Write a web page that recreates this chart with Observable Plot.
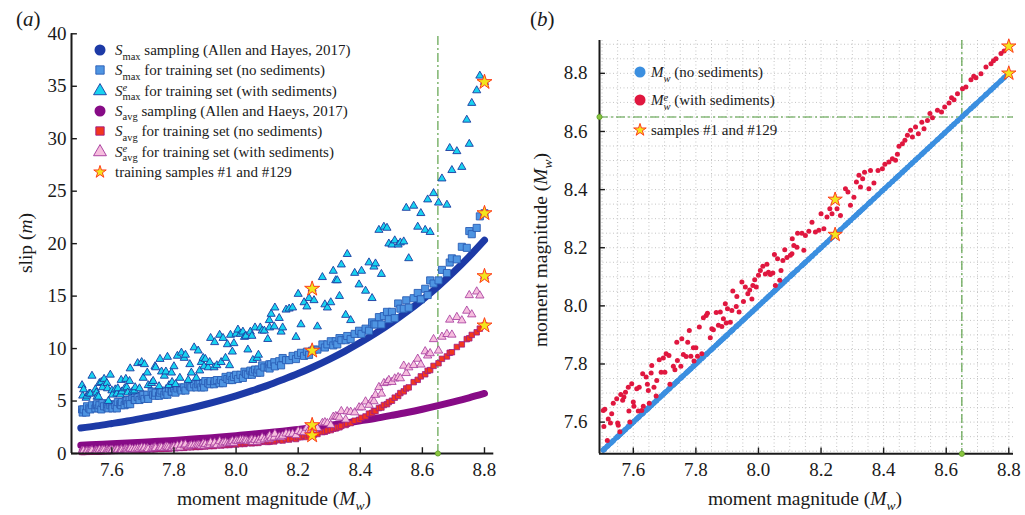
<!DOCTYPE html>
<html>
<head>
<meta charset="utf-8">
<script src="https://cdn.jsdelivr.net/npm/d3@7"></script>
<script src="https://cdn.jsdelivr.net/npm/@observablehq/plot@0.6"></script>
<style>
  html, body { margin: 0; padding: 0; background: #fff; }
  #fig { position: relative; width: 1025px; height: 515px; overflow: hidden;
         font-family: "Liberation Serif", "Times New Roman", Times, serif; color: #1a1a1a; }
  .panel { position: absolute; top: 0; }
  .lbl { position: absolute; white-space: nowrap; line-height: 1; }
  .rot { transform: translate(-50%, -50%) rotate(-90deg); }
  .ctr { transform: translateX(-50%); }
  .row { position: absolute; height: 18px; display: flex; align-items: center;
         font-size: 15px; line-height: 18px; white-space: nowrap; }
  .row svg { flex: none; overflow: visible; }
  .sx { display: inline-block; position: relative; line-height: 1; }
  .sx .b { position: relative; }
  .sx .t { position: absolute; left: 0; font-style: italic; }
</style>
</head>
<body>
<div id="fig"></div>
<script>
// ---------------------------------------------------------------------------
// Training samples: moment magnitude without sediments (mw), with sediments
// (mwSed), peak slip (sMax / sMaxSed) and average slip (sAvg / sAvgSed).
// ---------------------------------------------------------------------------
const mw = [
  7.504, 7.506, 7.509, 7.517, 7.520, 7.527, 7.531, 7.536, 7.547, 7.550,
  7.552, 7.557, 7.560, 7.566, 7.570, 7.575, 7.584, 7.586, 7.589, 7.595,
  7.600, 7.602, 7.611, 7.616, 7.619, 7.627, 7.630, 7.632, 7.641, 7.645,
  7.648, 7.651, 7.657, 7.659, 7.666, 7.673, 7.675, 7.683, 7.689, 7.696,
  7.701, 7.705, 7.714, 7.717, 7.728, 7.733, 7.739, 7.741, 7.752, 7.755,
  7.760, 7.769, 7.774, 7.779, 7.784, 7.792, 7.794, 7.800, 7.805, 7.811,
  7.819, 7.824, 7.833, 7.837, 7.846, 7.851, 7.856, 7.865, 7.872, 7.878,
  7.883, 7.888, 7.894, 7.897, 7.901, 7.910, 7.915, 7.918, 7.929, 7.931,
  7.938, 7.947, 7.952, 7.958, 7.966, 7.972, 7.979, 7.982, 7.988, 7.993,
  8.000, 8.006, 8.014, 8.022, 8.027, 8.032, 8.038, 8.046, 8.051, 8.054,
  8.061, 8.068, 8.072, 8.078, 8.084, 8.091, 8.102, 8.107, 8.108, 8.113,
  8.123, 8.125, 8.139, 8.145, 8.150, 8.161, 8.171, 8.182, 8.193, 8.200,
  8.209, 8.219, 8.228, 8.235, 8.245, 8.251, 8.262, 8.278, 8.286, 8.294,
  8.305, 8.313, 8.321, 8.326, 8.333, 8.339, 8.353, 8.358, 8.369, 8.382,
  8.396, 8.404, 8.417, 8.428, 8.438, 8.444, 8.449, 8.460, 8.468, 8.476,
  8.486, 8.492, 8.502, 8.511, 8.522, 8.529, 8.540, 8.548, 8.556, 8.572,
  8.585, 8.595, 8.609, 8.617, 8.625, 8.636, 8.652, 8.663, 8.679, 8.688,
  8.695, 8.711, 8.727, 8.743, 8.751, 8.759, 8.775, 8.785, 8.800
];

const mwSed = [
  7.640, 7.585, 7.644, 7.537, 7.611, 7.597, 7.629, 7.665, 7.680, 7.597,
  7.589, 7.567, 7.695, 7.675, 7.686, 7.703, 7.720, 7.638, 7.600, 7.732,
  7.669, 7.655, 7.715, 7.638, 7.720, 7.640, 7.766, 7.655, 7.755, 7.730,
  7.709, 7.665, 7.769, 7.795, 7.720, 7.690, 7.743, 7.815, 7.772, 7.821,
  7.772, 7.835, 7.829, 7.730, 7.792, 7.780, 7.875, 7.812, 7.792, 7.887,
  7.833, 7.826, 7.875, 7.915, 7.827, 7.856, 7.810, 7.856, 7.827, 7.927,
  7.835, 7.959, 7.967, 7.975, 7.890, 7.921, 7.918, 7.977, 7.933, 7.979,
  7.929, 7.956, 8.007, 7.941, 7.990, 7.944, 7.984, 8.051, 7.998, 8.032,
  7.979, 8.082, 8.015, 8.065, 8.042, 8.055, 8.024, 8.070, 8.090, 8.065,
  8.105, 8.122, 8.136, 8.110, 8.143, 8.116, 8.108, 8.113, 8.177, 8.070,
  8.162, 8.088, 8.122, 8.156, 8.193, 8.166, 8.174, 8.179, 8.231, 8.208,
  8.202, 8.250, 8.250, 8.191, 8.242, 8.257, 8.288, 8.254, 8.260, 8.317,
  8.265, 8.306, 8.334, 8.317, 8.366, 8.334, 8.311, 8.403, 8.392, 8.346,
  8.374, 8.426, 8.449, 8.409, 8.437, 8.460, 8.403, 8.466, 8.423, 8.466,
  8.472, 8.487, 8.495, 8.506, 8.501, 8.522, 8.549, 8.558, 8.570, 8.587,
  8.604, 8.581, 8.615, 8.592, 8.632, 8.609, 8.638, 8.662, 8.647, 8.673,
  8.667, 8.684, 8.698, 8.716, 8.709, 8.730, 8.747, 8.753, 8.778, 8.790,
  8.785, 8.799, 8.822, 8.833, 8.843, 8.850, 8.868, 8.877, 8.893
];

const sMax = [
  4.2, 3.9, 4.2, 3.9, 4.5, 4.3, 4.2, 4.6, 4.3, 4.6,
  4.7, 4.3, 4.6, 4.2, 4.8, 4.5, 4.4, 4.7, 4.3, 4.6,
  4.7, 4.3, 4.6, 4.3, 4.9, 4.7, 4.6, 4.9, 4.6, 5.0,
  5.1, 4.7, 5.1, 4.7, 5.4, 5.1, 5.1, 5.4, 5.1, 5.5,
  5.6, 5.2, 5.6, 5.2, 5.9, 5.6, 5.5, 5.8, 5.5, 5.8,
  6.0, 5.6, 5.9, 5.6, 6.2, 5.9, 5.9, 6.2, 5.8, 6.2,
  6.3, 6.0, 6.3, 6.0, 6.6, 6.4, 6.3, 6.6, 6.3, 6.6,
  6.7, 6.3, 6.7, 6.3, 6.9, 6.7, 6.6, 6.9, 6.6, 6.9,
  7.0, 6.7, 7.0, 6.7, 7.3, 7.1, 7.0, 7.4, 7.0, 7.3,
  7.5, 7.1, 7.5, 7.2, 7.8, 7.6, 7.5, 7.9, 7.5, 7.8,
  8.0, 7.7, 8.0, 7.7, 8.4, 8.2, 8.2, 8.5, 8.1, 8.5,
  8.7, 8.3, 8.8, 8.4, 9.1, 8.9, 8.9, 9.3, 9.0, 9.4,
  9.6, 9.3, 9.7, 9.4, 9.8, 9.9, 9.9, 10.4, 10.1, 10.4,
  10.7, 10.3, 10.7, 10.4, 11.0, 10.8, 10.8, 11.2, 10.9, 11.4,
  11.7, 11.4, 11.9, 11.7, 12.5, 12.3, 12.3, 13.0, 12.3, 13.1,
  13.5, 12.8, 13.5, 12.9, 14.3, 13.8, 13.8, 14.6, 13.9, 14.8,
  15.3, 14.7, 15.7, 15.1, 16.5, 16.2, 16.5, 17.5, 17.2, 18.2,
  18.6, 18.5, 19.7, 19.6, 21.2, 20.9, 21.5, 22.6, 22.9
];

const sMaxSed = [
  6.5, 5.5, 6.1, 5.3, 5.5, 5.7, 5.7, 7.4, 6.1, 5.8,
  5.4, 5.4, 6.7, 6.8, 6.3, 7.1, 6.7, 6.2, 5.0, 7.5,
  6.0, 5.6, 6.1, 5.7, 6.2, 5.6, 7.0, 5.9, 6.2, 7.1,
  6.3, 5.8, 6.9, 8.1, 5.9, 6.0, 6.3, 8.6, 6.2, 8.7,
  7.2, 8.5, 7.7, 6.5, 6.7, 6.9, 8.3, 8.2, 6.4, 9.0,
  7.8, 7.4, 7.8, 9.2, 6.5, 7.7, 6.8, 8.3, 6.6, 9.3,
  7.2, 9.6, 9.1, 9.4, 7.0, 8.5, 7.7, 10.1, 7.2, 9.8,
  7.9, 8.7, 9.1, 8.3, 9.0, 8.2, 8.7, 11.0, 8.2, 10.6,
  8.4, 11.3, 8.7, 11.0, 9.1, 10.4, 8.4, 11.3, 9.7, 10.5,
  11.4, 11.8, 11.4, 11.6, 11.1, 11.2, 9.9, 11.6, 11.2, 8.9,
  12.0, 9.1, 9.4, 12.0, 11.7, 11.7, 10.9, 12.7, 12.0, 13.3,
  12.1, 13.9, 12.9, 11.6, 12.0, 13.7, 13.8, 13.9, 11.1, 15.2,
  12.3, 14.4, 14.0, 14.8, 15.7, 14.6, 12.1, 16.8, 14.2, 13.9,
  14.4, 17.4, 16.5, 16.5, 15.0, 18.0, 13.2, 19.0, 12.7, 17.2,
  16.1, 17.4, 15.5, 18.2, 14.8, 17.8, 18.1, 21.3, 17.1, 21.6,
  21.5, 20.0, 19.9, 20.3, 19.9, 20.1, 20.2, 23.4, 18.6, 23.6,
  21.6, 22.9, 21.3, 24.2, 21.1, 24.8, 23.9, 26.2, 23.7, 29.1,
  27.0, 28.8, 27.3, 31.8, 29.5, 33.4, 34.6, 36.0, 35.4
];

const sAvg = [
  0.15, 0.17, 0.15, 0.17, 0.16, 0.18, 0.17, 0.19, 0.20, 0.21,
  0.19, 0.21, 0.20, 0.22, 0.21, 0.23, 0.23, 0.25, 0.23, 0.25,
  0.24, 0.26, 0.25, 0.28, 0.27, 0.30, 0.27, 0.30, 0.29, 0.31,
  0.29, 0.32, 0.32, 0.34, 0.32, 0.35, 0.33, 0.36, 0.34, 0.39,
  0.38, 0.41, 0.38, 0.42, 0.40, 0.43, 0.41, 0.45, 0.45, 0.48,
  0.44, 0.49, 0.46, 0.50, 0.47, 0.53, 0.51, 0.55, 0.50, 0.56,
  0.53, 0.57, 0.54, 0.61, 0.60, 0.65, 0.59, 0.66, 0.62, 0.67,
  0.63, 0.71, 0.69, 0.74, 0.67, 0.74, 0.70, 0.75, 0.71, 0.79,
  0.78, 0.84, 0.76, 0.84, 0.80, 0.86, 0.81, 0.90, 0.88, 0.94,
  0.86, 0.94, 0.90, 0.97, 0.91, 1.02, 0.99, 1.07, 0.97, 1.06,
  1.01, 1.09, 1.01, 1.14, 1.11, 1.19, 1.10, 1.21, 1.13, 1.21,
  1.15, 1.27, 1.27, 1.36, 1.24, 1.38, 1.33, 1.46, 1.38, 1.56,
  1.55, 1.70, 1.57, 1.75, 1.72, 1.80, 1.86, 2.04, 2.07, 2.18,
  2.23, 2.36, 2.39, 2.49, 2.50, 2.63, 2.72, 2.84, 2.90, 3.12,
  3.21, 3.40, 3.53, 3.80, 3.86, 4.06, 4.04, 4.33, 4.38, 4.62,
  4.70, 4.90, 5.03, 5.32, 5.48, 5.76, 5.92, 6.20, 6.30, 6.80,
  7.02, 7.35, 7.55, 7.88, 7.95, 8.35, 8.60, 9.02, 9.25, 9.60,
  9.65, 10.15, 10.40, 10.90, 10.98, 11.30, 11.55, 11.90, 12.20
];

const sAvgSed = [
  0.26, 0.21, 0.26, 0.21, 0.23, 0.24, 0.26, 0.30, 0.29, 0.26,
  0.23, 0.23, 0.35, 0.29, 0.32, 0.32, 0.37, 0.27, 0.26, 0.35,
  0.32, 0.32, 0.33, 0.30, 0.36, 0.32, 0.40, 0.33, 0.40, 0.39,
  0.40, 0.30, 0.45, 0.46, 0.41, 0.34, 0.44, 0.48, 0.45, 0.56,
  0.41, 0.54, 0.51, 0.42, 0.46, 0.49, 0.58, 0.51, 0.52, 0.57,
  0.56, 0.52, 0.65, 0.63, 0.56, 0.58, 0.52, 0.65, 0.52, 0.75,
  0.56, 0.84, 0.77, 0.86, 0.64, 0.72, 0.77, 0.78, 0.76, 0.82,
  0.77, 0.74, 0.94, 0.72, 0.88, 0.83, 0.81, 1.05, 0.88, 1.03,
  0.80, 1.16, 0.87, 1.02, 1.07, 0.95, 0.98, 1.05, 1.19, 1.00,
  1.22, 1.17, 1.27, 1.29, 1.20, 1.25, 1.16, 1.26, 1.32, 1.09,
  1.29, 1.10, 1.31, 1.24, 1.52, 1.34, 1.49, 1.35, 1.70, 1.48,
  1.53, 1.87, 1.62, 1.54, 1.68, 1.90, 1.84, 1.87, 1.74, 2.14,
  2.05, 2.02, 2.44, 2.25, 2.70, 2.28, 2.42, 2.90, 2.97, 2.88,
  2.72, 3.49, 3.55, 3.51, 3.42, 4.03, 3.23, 4.01, 3.96, 3.91,
  4.39, 4.39, 4.95, 4.63, 5.11, 4.97, 5.58, 6.32, 5.70, 6.70,
  6.77, 6.99, 6.81, 7.14, 7.26, 7.16, 8.36, 7.66, 8.20, 8.42,
  9.02, 8.47, 9.73, 9.33, 9.55, 10.89, 9.80, 11.12, 11.38, 12.75,
  11.32, 13.00, 12.68, 13.60, 15.08, 13.25, 15.43, 15.05, 16.90
];

// Magnitude of training samples #1 and #129 (drawn as stars)
const starMw = [8.245, 8.800];

// Allen and Hayes (2017) slip scaling, sampled along Mw
const mwScaling = [
  7.50, 7.55, 7.60, 7.65, 7.70, 7.75, 7.80, 7.85, 7.90, 7.95,
  8.00, 8.05, 8.10, 8.15, 8.20, 8.25, 8.30, 8.35, 8.40, 8.45,
  8.50, 8.55, 8.60, 8.65, 8.70, 8.75, 8.80
];
const sMaxScaling = [
  2.43, 2.63, 2.86, 3.10, 3.37, 3.65, 3.96, 4.30, 4.67, 5.07,
  5.50, 5.97, 6.47, 7.03, 7.62, 8.27, 8.98, 9.74, 10.57, 11.47,
  12.45, 13.51, 14.66, 15.91, 17.27, 18.74, 20.33
];
const sAvgScaling = [
  0.79, 0.86, 0.92, 1.00, 1.08, 1.16, 1.25, 1.35, 1.46, 1.57,
  1.70, 1.83, 1.98, 2.13, 2.30, 2.48, 2.68, 2.89, 3.12, 3.36,
  3.63, 3.91, 4.22, 4.56, 4.92, 5.30, 5.72
];

// Reference magnitude marked by the dash-dot guides
const refMw = 8.65;

// Tick values
const mwTicks = [7.6, 7.8, 8.0, 8.2, 8.4, 8.6, 8.8];
const slipTicks = [0, 5, 10, 15, 20, 25, 30, 35, 40];
const mwTicksB = [7.6, 7.8, 8.0, 8.2, 8.4, 8.6, 8.8];

// ---------------------------------------------------------------------------
const serif = '"Liberation Serif", "Times New Roman", Times, serif';
const ink = "#1a1a1a";
const guide = "#4f9a3a";
const guideDot = "#8cc63f";
const C = {
  smaxScale: "#1d3aa6",
  smaxFill: "#4f95e2", smaxEdge: "#2a5db5",
  smaxSedFill: "#18d3f0", smaxSedEdge: "#1c3aa0",
  savgScale: "#870b86",
  savgFill: "#f2371d", savgEdge: "#a01a86",
  savgSedFill: "#f6bede", savgSedEdge: "#a3359a",
  starFill: "#f2e51d", starEdge: "#ff3b1a",
  mwBlue: "#3b8fe0", mwRed: "#e0173f"
};

const idx = d3.range(mw.length);
const scaleIdx = d3.range(mwScaling.length);
const starIdx = starMw.map(v => mw.indexOf(v));

// ---------------------------- panel (a) -----------------------------------
const xA = [7.47, 8.83];
const starsA = starIdx.flatMap(i =>
  [sMaxSed[i], sMax[i], sAvgSed[i], sAvg[i]].map(v => ({m: mw[i], v})));

const plotA = Plot.plot({
  width: 520, height: 515,
  marginLeft: 71, marginRight: 26.7, marginTop: 33.3, marginBottom: 62,
  style: {fontFamily: serif, fontSize: "19px", color: ink, background: "transparent", overflow: "visible"},
  x: {domain: xA, ticks: mwTicks, tickSize: 0, tickPadding: 9, tickFormat: ".1f", label: null},
  y: {domain: [0, 40], ticks: slipTicks, tickSize: 0, tickPadding: 5, label: null},
  marks: [
    Plot.ruleX([refMw], {y1: 0, y2: 40, stroke: guide, strokeWidth: 1.1, strokeDasharray: "9,3,2,3"}),
    Plot.line(scaleIdx, {x: i => mwScaling[i], y: i => sMaxScaling[i], stroke: C.smaxScale,
      strokeWidth: 7, strokeLinecap: "round", curve: "catmull-rom"}),
    Plot.dot(idx, {x: i => mw[i], y: i => sMax[i], symbol: "square", r: 4.0,
      fill: C.smaxFill, stroke: C.smaxEdge, strokeWidth: 0.9}),
    Plot.dot(idx, {x: i => mw[i], y: i => sMaxSed[i], symbol: "triangle", r: 3.0,
      fill: C.smaxSedFill, stroke: C.smaxSedEdge, strokeWidth: 0.9}),
    Plot.line(scaleIdx, {x: i => mwScaling[i], y: i => sAvgScaling[i], stroke: C.savgScale,
      strokeWidth: 7, strokeLinecap: "round", curve: "catmull-rom"}),
    Plot.dot(idx, {x: i => mw[i], y: i => sAvg[i], symbol: "square", r: 3.1,
      fill: C.savgFill, stroke: C.savgEdge, strokeWidth: 0.8}),
    Plot.dot(idx, {x: i => mw[i], y: i => sAvgSed[i], symbol: "triangle", r: 3.1,
      fill: C.savgSedFill, stroke: C.savgSedEdge, strokeWidth: 0.8}),
    Plot.dot(starsA, {x: "m", y: "v", symbol: "star", r: 4.7,
      fill: C.starFill, stroke: C.starEdge, strokeWidth: 1}),
    // axis lines and inward ticks
    Plot.ruleY([0], {x1: xA[0], x2: xA[1], stroke: ink, strokeWidth: 2}),
    Plot.ruleX([xA[0]], {y1: 0, y2: 40, stroke: ink, strokeWidth: 2}),
    Plot.ruleX(mwTicks, {y1: 0, y2: 0.55, stroke: ink, strokeWidth: 1.4}),
    Plot.ruleY(slipTicks, {x1: xA[0], x2: xA[0] + 0.019, stroke: ink, strokeWidth: 1.4}),
    Plot.dot([refMw], {x: d => d, y: 0, r: 2.6, fill: guideDot, stroke: "#5b9b2b", strokeWidth: 0.8})
  ]
});

// ---------------------------- panel (b) -----------------------------------
const xB = [7.492, 8.815];
const yB = [7.491, 8.913];
const gridB = d3.range(150, 179).map(k => k / 20);
const starsB = starIdx.flatMap(i => [mw[i], mwSed[i]].map(v => ({m: mw[i], v})));

const plotB = Plot.plot({
  width: 505, height: 515,
  marginLeft: 79, marginRight: 12, marginTop: 40, marginBottom: 61.7,
  style: {fontFamily: serif, fontSize: "19px", color: ink, background: "transparent", overflow: "visible"},
  x: {domain: xB, ticks: mwTicksB, tickSize: 0, tickPadding: 9, tickFormat: ".1f", label: null},
  y: {domain: yB, ticks: mwTicksB, tickSize: 0, tickPadding: 12, tickFormat: ".1f", label: null},
  marks: [
    Plot.ruleX(gridB.filter(v => v > xB[0] && v < xB[1]),
      {stroke: "#c4c4c4", strokeWidth: 1, strokeDasharray: "1,2.5"}),
    Plot.ruleY(gridB.filter(v => v > yB[0] && v < yB[1]),
      {stroke: "#c4c4c4", strokeWidth: 1, strokeDasharray: "1,2.5"}),
    Plot.ruleX([refMw], {stroke: guide, strokeWidth: 1.1, strokeDasharray: "9,3,2,3"}),
    Plot.ruleY([refMw], {stroke: guide, strokeWidth: 1.1, strokeDasharray: "9,3,2,3"}),
    // samples without sediments sit on the 1:1 line, dense enough to read as a band
    Plot.line(idx, {x: i => mw[i], y: i => mw[i], stroke: C.mwBlue, strokeWidth: 5, strokeLinecap: "round"}),
    Plot.dot(idx, {x: i => mw[i], y: i => mw[i], r: 2.7, fill: C.mwBlue}),
    Plot.dot(idx, {x: i => mw[i], y: i => mwSed[i], r: 2.5, fill: C.mwRed}),
    Plot.dot(starsB, {x: "m", y: "v", symbol: "star", r: 4.5,
      fill: C.starFill, stroke: C.starEdge, strokeWidth: 1}),
    Plot.ruleY([yB[0]], {x1: xB[0], x2: xB[1], stroke: ink, strokeWidth: 2}),
    Plot.ruleX([xB[0]], {y1: yB[0], y2: yB[1], stroke: ink, strokeWidth: 2}),
    Plot.ruleX(mwTicksB, {y1: yB[0], y2: yB[0] + 0.02, stroke: ink, strokeWidth: 1.4}),
    Plot.ruleY(mwTicksB, {x1: xB[0], x2: xB[0] + 0.019, stroke: ink, strokeWidth: 1.4}),
    Plot.dot([refMw], {x: d => d, y: yB[0], r: 2.6, fill: guideDot, stroke: "#5b9b2b", strokeWidth: 0.8}),
    Plot.dot([refMw], {x: xB[0], y: d => d, r: 2.6, fill: guideDot, stroke: "#5b9b2b", strokeWidth: 0.8})
  ]
});

// ---------------------------- assemble ------------------------------------
const fig = document.getElementById("fig");
const wrapA = document.createElement("div");
wrapA.className = "panel"; wrapA.style.left = "0px"; wrapA.appendChild(plotA);
const wrapB = document.createElement("div");
wrapB.className = "panel"; wrapB.style.left = "520px"; wrapB.appendChild(plotB);
fig.appendChild(wrapA);
fig.appendChild(wrapB);

function addLabel(html, css, cls = "") {
  const d = document.createElement("div");
  d.className = "lbl " + cls;
  d.innerHTML = html;
  Object.assign(d.style, css);
  fig.appendChild(d);
}

// sub/superscript helper: base letter with stacked scripts
function scr(sub, sup, size, subItalic, drop, rise) {
  const b = `<span class="b" style="top:${drop}px;${subItalic ? "font-style:italic;" : ""}">${sub}</span>`;
  const t = sup ? `<span class="t" style="top:${-rise}px">${sup}</span>` : "";
  return `<span class="sx" style="font-size:${size}px">${t}${b}</span>`;
}

// panel tags
addLabel("(<i>a</i>)", {left: "16px", top: "9px", fontSize: "21px"});
addLabel("(<i>b</i>)", {left: "530px", top: "9px", fontSize: "21px"});

// axis titles
const mwTitle = `moment magnitude (<i>M</i>${scr("w", null, 13.5, true, 5, 0)})`;
addLabel(mwTitle, {left: "274px", top: "489px", fontSize: "19.5px"}, "ctr");
addLabel(mwTitle, {left: "805px", top: "489px", fontSize: "19.5px"}, "ctr");
addLabel("slip (<i>m</i>)", {left: "26px", top: "243px", fontSize: "19.5px"}, "rot");
addLabel(mwTitle, {left: "541px", top: "250px", fontSize: "19.5px"}, "rot");

// legend symbols
function sym(type, size, fill, stroke, sw) {
  const p = d3.symbol(type, size)();
  return `<svg width="14" height="14" viewBox="-7 -7 14 14"><path d="${p}" fill="${fill}" stroke="${stroke}" stroke-width="${sw}"/></svg>`;
}
const circ = (r, fill) => `<svg width="14" height="14" viewBox="-7 -7 14 14"><circle r="${r}" fill="${fill}"/></svg>`;

function addRow(x, y, symHtml, textHtml, gap) {
  const d = document.createElement("div");
  d.className = "row";
  d.style.left = x + "px";
  d.style.top = (y - 9) + "px";
  d.innerHTML = symHtml + `<span style="margin-left:${gap}px">${textHtml}</span>`;
  fig.appendChild(d);
}

const S = (sub, sup) => `<i>S</i>${scr(sub, sup, 10.5, false, 4.5, 4.5)}`;
const rowsA = [
  [circ(5.5, C.smaxScale), `${S("max")} sampling (Allen and Hayes, 2017)`],
  [sym(d3.symbolSquare, 70, C.smaxFill, C.smaxEdge, 0.9), `${S("max")} for training set (no sediments)`],
  [sym(d3.symbolTriangle, 72, C.smaxSedFill, C.smaxSedEdge, 0.9), `${S("max", "e")} for training set (with sediments)`],
  [circ(5.5, C.savgScale), `${S("avg")} sampling (Allen and Haeys, 2017)`],
  [sym(d3.symbolSquare, 70, C.savgFill, C.savgEdge, 0.9), `${S("avg")} for training set (no sediments)`],
  [sym(d3.symbolTriangle, 72, C.savgSedFill, C.savgSedEdge, 0.9), `${S("avg", "e")} for training set (with sediments)`],
  [sym(d3.symbolStar, 48, C.starFill, C.starEdge, 1), "training samples #1 and #129"]
];
const rowYA = [50, 70.3, 90.6, 110.9, 131.2, 151.5, 171.8];
rowsA.forEach(([s, t], k) => addRow(93, rowYA[k], s, t, 8));

const M = (sup) => `<i>M</i>${scr("w", sup, 10.5, true, 4.5, 4.5)}`;
const rowsB = [
  [circ(5.5, C.mwBlue), `${M(null)} (no sediments)`],
  [circ(5.5, C.mwRed), `${M("e")} (with sediments)`],
  [sym(d3.symbolStar, 48, C.starFill, C.starEdge, 1), "samples #1 and #129"]
];
const rowYB = [72, 100, 129.5];
rowsB.forEach(([s, t], k) => addRow(633, rowYB[k], s, t, 4));
</script>
</body>
</html>
